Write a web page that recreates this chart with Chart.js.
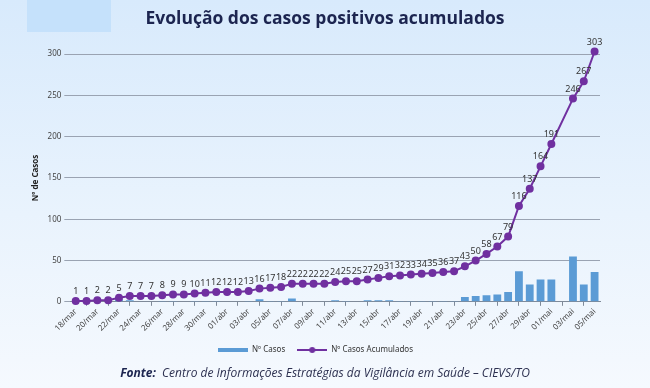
<!DOCTYPE html>
<html>
<head>
<meta charset="utf-8">
<script src="https://cdn.jsdelivr.net/npm/chart.js@4.4.1/dist/chart.umd.min.js"></script>
<style>
  html, body { margin: 0; padding: 0; }
  body {
    width: 650px; height: 388px; overflow: hidden; position: relative;
    background: linear-gradient(to bottom, #d8eafc 0%, #e9f3fd 55%, #f5f9fe 100%);
    font-family: 'Open Sans', sans-serif;
  }
  #tag { position: absolute; left: 27px; top: 0; width: 84px; height: 32px; background: #c5e1fb; }
  #title {
    position: absolute; left: 0; width: 650px; top: 5px; text-align: center;
    font: 700 17.5px 'Open Sans', sans-serif; color: #1c2550; padding-left: 0px;
  }
  #wrap { position: absolute; left: 0; top: 0; width: 650px; height: 388px; }
  #fonte {
    position: absolute; left: 0; width: 650px; top: 364px; text-align: center;
    font: italic 12px 'Open Sans', sans-serif; color: #2c3050;
  }
  #fonte b { font-weight: 700; color: #1c2550; }
</style>
</head>
<body>
<div id="tag"></div>
<div id="wrap"><canvas id="casosChart" width="650" height="388"></canvas></div>
<div id="title">Evolução dos casos positivos acumulados</div>
<div id="fonte"><b>Fonte:</b>&nbsp; Centro de Informações Estratégias da Vigilância em Saúde – CIEVS/TO</div>
<script>
const dias = [
    '18/mar', '19/mar', '20/mar', '21/mar', '22/mar', '23/mar', '24/mar', '25/mar', '26/mar', '27/mar',
    '28/mar', '29/mar', '30/mar', '31/mar', '01/abr', '02/abr', '03/abr', '04/abr', '05/abr', '06/abr',
    '07/abr', '08/abr', '09/abr', '10/abr', '11/abr', '12/abr', '13/abr', '14/abr', '15/abr', '16/abr',
    '17/abr', '18/abr', '19/abr', '20/abr', '21/abr', '22/abr', '23/abr', '24/abr', '25/abr', '26/abr',
    '27/abr', '28/abr', '29/abr', '30/abr', '01/mai', '02/mai', '03/mai', '04/mai', '05/mai'
];

// casos novos por dia (barras)
const casosDia = [
    1, 0, 1, 0, 3, 2, 0, 0, 1, 1,
    0, 1, 1, 1, 0, 0, 1, 3, 1, 1,
    4, 0, 0, 0, 2, 1, 0, 2, 2, 2,
    1, 1, 1, 1, 1, 1, 6, 7, 8, 9,
    12, 37, 21, 27, 27, null, 55, 21, 36
];

// casos acumulados (linha)
const casosAcumulados = [
    1, 1, 2, 2, 5, 7, 7, 7, 8, 9,
    9, 10, 11, 12, 12, 12, 13, 16, 17, 18,
    22, 22, 22, 22, 24, 25, 25, 27, 29, 31,
    32, 33, 34, 35, 36, 37, 43, 50, 58, 67,
    79, 116, 137, 164, 191, null, 246, 267, 303
];

const yTicks = [0, 50, 100, 150, 200, 250, 300];

const corBarra = '#5b9bd5';
const corLinha = '#7030a0';

// small images for the legend symbols
function legendImg(kind) {
    const c = document.createElement('canvas');
    c.width = 30; c.height = 8;
    const g = c.getContext('2d');
    if (kind === 'bar') {
        g.fillStyle = corBarra;
        g.fillRect(0, 2, 30, 4);
    } else {
        g.strokeStyle = corLinha;
        g.lineWidth = 2;
        g.beginPath(); g.moveTo(0, 4); g.lineTo(30, 4); g.stroke();
        g.fillStyle = corLinha;
        g.beginPath(); g.arc(15, 4, 3, 0, Math.PI * 2); g.fill();
    }
    return c;
}
const imgBarra = legendImg('bar');
const imgLinha = legendImg('line');

// value labels above the cumulative line
const rotulos = {
    id: 'rotulos',
    afterDatasetsDraw(chart) {
        const meta = chart.getDatasetMeta(1);
        const ctx = chart.ctx;
        ctx.save();
        ctx.font = '9px "Noto Sans", sans-serif';
        ctx.fillStyle = '#333333';
        ctx.textAlign = 'center';
        ctx.textBaseline = 'bottom';
        meta.data.forEach((pt, i) => {
            const v = casosAcumulados[i];
            if (v === null || pt.skip) return;
            ctx.fillText(String(v), pt.x, pt.y - 5);
        });
        ctx.restore();
    }
};

const ctx = document.getElementById('casosChart');
new Chart(ctx, {
    data: {
        labels: dias,
        datasets: [{
            type: 'bar',
            label: 'Nº Casos',
            data: casosDia,
            backgroundColor: corBarra,
            barPercentage: 0.85,
            categoryPercentage: 0.85,
            order: 2
        }, {
            type: 'line',
            label: 'Nº Casos Acumulados',
            data: casosAcumulados,
            borderColor: corLinha,
            backgroundColor: corLinha,
            borderWidth: 2,
            pointRadius: 3,
            pointHoverRadius: 3,
            spanGaps: true,
            tension: 0,
            clip: false,
            order: 1
        }]
    },
    options: {
        responsive: false,
        animation: false,
        layout: { padding: { left: 31, right: 50, top: 54, bottom: 24 } },
        plugins: {
            legend: {
                display: true,
                position: 'bottom',
                labels: {
                    usePointStyle: true,
                    pointStyleWidth: 30,
                    boxHeight: 8,
                    padding: 12,
                    color: '#333333',
                    font: { family: '"Noto Sans", sans-serif', size: 8 },
                    generateLabels(chart) {
                        return chart.data.datasets.map((ds, i) => ({
                            text: ds.label,
                            datasetIndex: i,
                            pointStyle: i === 0 ? imgBarra : imgLinha,
                            fillStyle: 'transparent',
                            strokeStyle: 'transparent',
                            lineWidth: 0,
                            fontColor: '#333333'
                        }));
                    }
                }
            },
            tooltip: { enabled: false }
        },
        scales: {
            x: {
                offset: true,
                grid: {
                    display: true,
                    drawOnChartArea: false,
                    drawTicks: true,
                    tickLength: 4,
                    color: '#7f8a99',
                    offset: true
                },
                border: { display: true, color: '#7f8a99' },
                ticks: {
                    autoSkip: false,
                    maxRotation: 45,
                    minRotation: 45,
                    padding: 1,
                    color: '#444444',
                    font: { family: '"Noto Sans", sans-serif', size: 8 },
                    callback(val, idx) {
                        return idx % 2 === 0 ? dias[idx] : null;
                    }
                }
            },
            y: {
                min: 0,
                max: 300,
                afterBuildTicks(scale) {
                    scale.ticks = yTicks.map(v => ({ value: v }));
                },
                grid: {
                    color: '#9aa3b2',
                    tickLength: 6,
                    drawTicks: true
                },
                border: { display: false },
                ticks: {
                    padding: 3,
                    color: '#444444',
                    font: { family: '"Noto Sans", sans-serif', size: 8 }
                },
                title: {
                    display: true,
                    text: 'Nº de Casos',
                    color: '#222222',
                    padding: { top: 0, bottom: 4 },
                    font: { family: '"Noto Sans", sans-serif', size: 8, weight: 'bold' }
                }
            }
        }
    },
    plugins: [rotulos]
});
</script>
</body>
</html>
